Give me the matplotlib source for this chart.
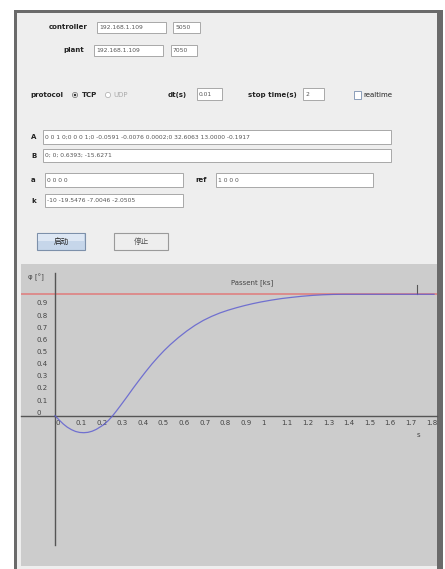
import matplotlib
matplotlib.use("Agg")
import matplotlib.pyplot as plt
from matplotlib.patches import Rectangle, Circle

# ---- data ----
t = [0, 0.02, 0.04, 0.06, 0.08, 0.10, 0.12, 0.14, 0.16, 0.18, 0.20, 0.22,
     0.24, 0.26, 0.28, 0.30, 0.32, 0.35, 0.38, 0.41, 0.44, 0.47, 0.50, 0.53,
     0.56, 0.60, 0.64, 0.68, 0.72, 0.76, 0.80, 0.84, 0.88, 0.92, 0.96, 1.00,
     1.05, 1.10, 1.15, 1.20, 1.25, 1.30, 1.35, 1.40, 1.84]
response = [0, -0.035, -0.068, -0.095, -0.115, -0.13, -0.138, -0.14, -0.137,
            -0.128, -0.113, -0.092, -0.07, -0.038, 0.0, 0.043, 0.088, 0.157,
            0.228, 0.296, 0.362, 0.425, 0.483, 0.537, 0.586, 0.645, 0.698,
            0.745, 0.785, 0.818, 0.846, 0.869, 0.889, 0.907, 0.923, 0.937,
            0.952, 0.965, 0.975, 0.984, 0.991, 0.996, 0.999, 1.0, 1.0]
reference = 1.0
marker_t, marker_top = 1.755, 1.08

xticks = [i / 10 for i in range(19)]
xticklabels = ["0", "0.1", "0.2", "0.3", "0.4", "0.5", "0.6", "0.7", "0.8", "0.9",
               "1", "1.1", "1.2", "1.3", "1.4", "1.5", "1.6", "1.7", "1.8"]
yticks = [i / 10 for i in range(10)]
yticklabels = ["0", "0.1", "0.2", "0.3", "0.4", "0.5", "0.6", "0.7", "0.8", "0.9"]

controller_ip, controller_port = "192.168.1.109", "5050"
plant_ip, plant_port = "192.168.1.109", "7050"
dt_text, stop_text = "0.01", "2"
A_text = "0 0 1 0;0 0 0 1;0 -0.0591 -0.0076 0.0002;0 32.6063 13.0000 -0.1917"
B_text = "0; 0; 0.6393; -15.6271"
a_text = "0 0 0 0"
ref_text = "1 0 0 0"
k_text = "-10 -19.5476 -7.0046 -2.0505"

W, H = 445, 569
plt.rcParams['font.family'] = ['DejaVu Sans', 'Noto Sans CJK SC']

fig = plt.figure(figsize=(W / 100, H / 100), dpi=100, facecolor="white")
ui = fig.add_axes([0, 0, 1, 1])
ui.set_xlim(0, W)
ui.set_ylim(H, 0)
ui.axis("off")


def box(x0, y0, x1, y1, fc, ec="none", lw=0.6):
    ui.add_patch(Rectangle((x0, y0), x1 - x0, y1 - y0, facecolor=fc,
                           edgecolor=ec, lw=lw))


def label(x, y, s, ha="left", size=5, color="#222222", weight="bold", **kw):
    ui.text(x, y, s, ha=ha, va="center", fontsize=size, color=color,
            fontweight=weight, **kw)


def field(x0, y0, x1, y1, s):
    box(x0, y0, x1, y1, "white", "#a8a8a8", 0.7)
    ui.text(x0 + 2, (y0 + y1) / 2, s, ha="left", va="center", fontsize=4.3,
            color="#555555")


# window frame
box(14, 10, 443, H + 2, "#6a6a6a")
box(17, 13, 437, H + 2, "#eeeeee")

# connection rows
label(88, 27, "controller", ha="right")
field(97, 22, 166, 33, controller_ip)
field(173, 22, 200, 33, controller_port)
label(84, 50, "plant", ha="right")
field(94, 45, 163, 56, plant_ip)
field(171, 45, 197, 56, plant_port)

# protocol row
label(30, 95, "protocol")
ui.add_patch(Circle((75, 95), 2.6, facecolor="white", edgecolor="#666666", lw=0.5))
ui.add_patch(Circle((75, 95), 1.3, facecolor="#333333"))
label(82, 95, "TCP")
ui.add_patch(Circle((108, 95), 2.6, facecolor="white", edgecolor="#aaaaaa", lw=0.5))
label(113, 95, "UDP", color="#aaaaaa", weight="normal")
label(168, 95, "dt(s)")
field(197, 88, 222, 100, dt_text)
label(248, 95, "stop time(s)")
field(303, 88, 324, 100, stop_text)
box(354, 91, 361, 99, "white", "#7a90b0", 0.6)
label(363, 95, "realtime", weight="normal")

# matrix rows
label(31, 137, "A")
field(43, 130, 391, 144, A_text)
label(31, 156, "B")
field(43, 149, 391, 162, B_text)
label(31, 180, "a")
field(45, 173, 183, 187, a_text)
label(195, 180, "ref")
field(216, 173, 373, 187, ref_text)
label(31, 201, "k")
field(45, 194, 183, 207, k_text)

# buttons
box(37, 233, 85, 250, "#c6d6ea", "#7d90aa", 0.8)
box(38, 234, 84, 241, "#dde7f4")
label(61, 241.5, "启动", ha="center", size=5.5, weight="normal",
      family=["Noto Sans CJK SC"])
box(114, 233, 168, 250, "#eeeeee", "#9a9a9a", 0.8)
label(141, 241.5, "停止", ha="center", size=5.5, color="#555555", weight="normal",
      family=["Noto Sans CJK SC"])

# ---- chart panel: pixel layout of the plot area ----
px_left, px_right, px_top, px_bottom = 21, 437, 264, 566
x0_px, x_scale = 55, 206.0      # t = 0 at pixel 55, px per second
y0_px, y_scale = 415.7, 121.4   # value 0 at pixel 415.7, px per unit

ax = fig.add_axes([px_left / W, 1 - px_bottom / H,
                   (px_right - px_left) / W, (px_bottom - px_top) / H])
ax.set_facecolor("#cccccc")
ax.set_xlim((px_left - x0_px) / x_scale, (px_right - x0_px) / x_scale)
ax.set_ylim((y0_px - px_bottom) / y_scale, (y0_px - px_top) / y_scale)
for side in ["top", "right"]:
    ax.spines[side].set_visible(False)
ax.spines["left"].set_position(("data", 0))
ax.spines["bottom"].set_position(("data", 0))
ax.spines["left"].set_bounds((y0_px - 545) / y_scale, (y0_px - 273) / y_scale)
for side in ["left", "bottom"]:
    ax.spines[side].set_color("#555555")
    ax.spines[side].set_linewidth(1.0)

ax.set_xticks(xticks)
ax.set_xticklabels(xticklabels)
ax.set_yticks(yticks)
ax.set_yticklabels(yticklabels)
ax.tick_params(axis="x", length=0, pad=3, labelsize=5, labelcolor="#444444")
ax.tick_params(axis="y", length=0, pad=13, labelsize=5, labelcolor="#444444")
for lb in ax.get_xticklabels():
    lb.set_ha("left")
for lb in ax.get_yticklabels():
    lb.set_ha("left")
    lb.set_va("bottom")

ax.axhline(reference, color="#e07a7a", lw=1.1, zorder=2)
ax.plot(t, response, color="#6060d0", lw=0.9, alpha=0.85, zorder=3)
ax.plot([marker_t, marker_t], [reference, marker_top], color="#555555", lw=0.8)

fig.text(252 / W, 1 - 283 / H, "Passent [ks]", ha="center", va="center",
         fontsize=5, color="#444444")
fig.text(36 / W, 1 - 277 / H, "φ [°]", ha="center", va="center",
         fontsize=5, color="#444444")
fig.text(418 / W, 1 - 435 / H, "s", ha="center", va="center",
         fontsize=5, color="#444444")

fig.savefig("out.png", dpi=100, facecolor="white")
